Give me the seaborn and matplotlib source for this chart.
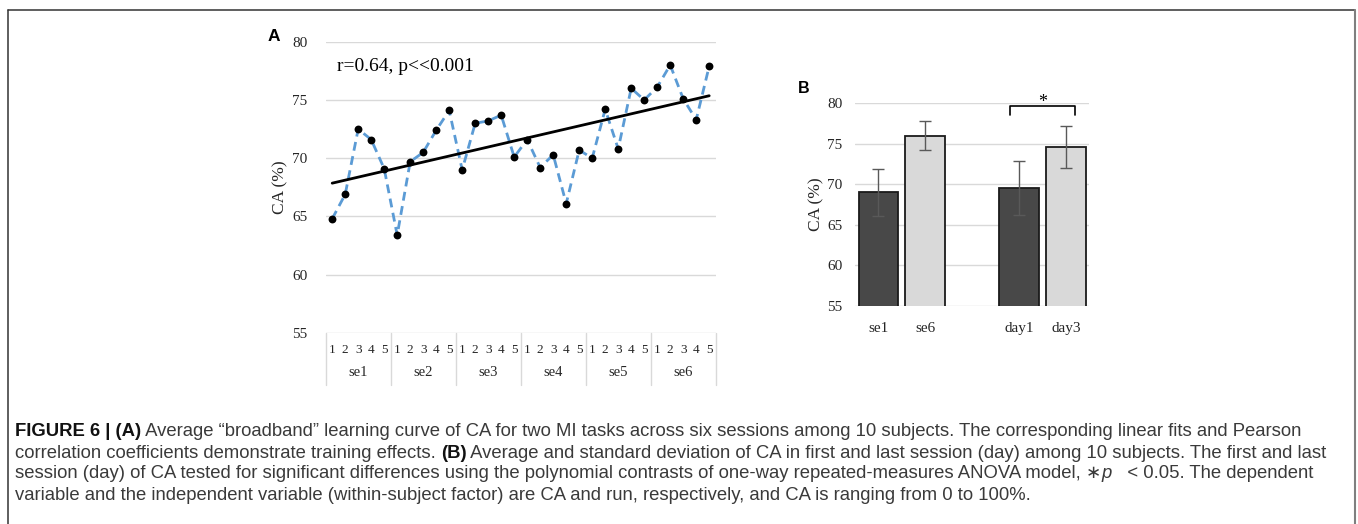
import numpy as np
import pandas as pd
import matplotlib
matplotlib.use("Agg")
import matplotlib.pyplot as plt
import matplotlib.transforms as mtransforms
import seaborn as sns

# ---------------- data ----------------
sessions = ["se1", "se2", "se3", "se4", "se5", "se6"]
runs = ["1", "2", "3", "4", "5"]
ca_curve = [64.8, 66.9, 72.5, 71.6, 69.1,
            63.4, 69.7, 70.5, 72.4, 74.1,
            69.0, 73.0, 73.2, 73.7, 70.1,
            71.6, 69.2, 70.3, 66.1, 70.7,
            70.0, 74.2, 70.8, 76.0, 75.0,
            76.1, 78.0, 75.1, 73.3, 77.9]
annot_text = "r=0.64, p<<0.001"

bar_labels = ["se1", "se6", "day1", "day3"]
bar_order = ["se1", "se6", " ", "day1", "day3"]
bar_means = [69.0, 76.0, 69.5, 74.6]
bar_sds = [2.9, 1.8, 3.35, 2.55]
bar_colors = {"se1": "#484848", "se6": "#d9d9d9", "day1": "#484848", "day3": "#d9d9d9", " ": "#ffffff"}

y_ticks = [55, 60, 65, 70, 75, 80]

caption_lines = [
    [("FIGURE 6 | (A)", "bold", "normal"),
     (" Average \u201cbroadband\u201d learning curve of CA for two MI tasks across six sessions among 10 subjects. The corresponding linear fits and Pearson", "normal", "normal")],
    [("correlation coefficients demonstrate training effects. ", "normal", "normal"),
     ("(B)", "bold", "normal"),
     (" Average and standard deviation of CA in first and last session (day) among 10 subjects. The first and last", "normal", "normal")],
    [("session (day) of CA tested for significant differences using the polynomial contrasts of one-way repeated-measures ANOVA model, \u2217", "normal", "normal"),
     ("p", "normal", "italic"),
     ("   < 0.05. The dependent", "normal", "normal")],
    [("variable and the independent variable (within-subject factor) are CA and run, respectively, and CA is ranging from 0 to 100%.", "normal", "normal")],
]

# ---------------- style ----------------
sns.set_style("white")
plt.rcParams["font.family"] = ["Liberation Serif", "DejaVu Serif"]
plt.rcParams["axes.unicode_minus"] = False

W, H = 1358, 524
fig = plt.figure(figsize=(W / 100, H / 100), dpi=100)

def fx(px):
    return px / W

def fy(py):
    return 1 - py / H

grid_c = "#d9d9d9"
text_c = "#262626"

# background axes for frame + caption
bg = fig.add_axes([0, 0, 1, 1])
bg.set_xlim(0, 1)
bg.set_ylim(0, 1)
bg.axis("off")
bg.plot([fx(8), fx(8)], [fy(10), 0], color="#333333", lw=1.1)
bg.plot([fx(8), fx(1355)], [fy(10), fy(10)], color="#333333", lw=1.1)
bg.plot([fx(1355), fx(1355)], [fy(10), 0], color="#7f7f7f", lw=1.5)

# ---------------- panel A ----------------
axA = fig.add_axes([fx(325.7), fy(333), fx(715.7) - fx(325.7), fy(41.7) - fy(333)])
xs = np.arange(len(ca_curve))
dfA = pd.DataFrame({"x": xs, "ca": ca_curve})
sns.lineplot(data=dfA, x="x", y="ca", ax=axA, color="#5b9bd5", lw=2.0,
             linestyle=(0, (3.2, 2.0)), zorder=2)
sns.regplot(data=dfA, x="x", y="ca", ax=axA, scatter=False, ci=None,
            line_kws=dict(color="black", lw=2.0, zorder=3))
sns.scatterplot(data=dfA, x="x", y="ca", ax=axA, color="black", s=32,
                edgecolor="black", linewidth=0, zorder=4)
axA.set_xlim(-0.5, len(ca_curve) - 0.5)
axA.set_ylim(55, 80)
axA.set_yticks(y_ticks)
axA.set_yticklabels([str(t) for t in y_ticks], fontsize=11, color=text_c)
axA.yaxis.grid(True, color=grid_c, lw=1.0)
axA.set_axisbelow(True)
for s in axA.spines.values():
    s.set_visible(False)
axA.tick_params(axis="y", length=0, pad=13)
axA.set_xticks(xs)
axA.set_xticklabels(runs * len(sessions), fontsize=9.5, color=text_c)
axA.tick_params(axis="x", length=0, pad=8)
axA.set_xlabel("")
axA.set_ylabel("CA (%)", fontsize=12.5, color=text_c, labelpad=3)

trA = mtransforms.blended_transform_factory(axA.transData, axA.transAxes)
axh = 333 - 41.7
for i, se in enumerate(sessions):
    axA.text(i * len(runs) + (len(runs) - 1) / 2, -(373 - 333) / axh, se,
             transform=trA, ha="center", va="center", fontsize=10.5, color=text_c)
for b in range(len(sessions) + 1):
    axA.plot([b * len(runs) - 0.5] * 2, [0, -(385 - 333) / axh], transform=trA,
             color=grid_c, lw=1.0, clip_on=False)
axA.text(fx(336.7 - 325.7) / (fx(715.7) - fx(325.7)), (333 - 66.7) / axh, annot_text,
         transform=axA.transAxes, ha="left", va="center", fontsize=14, color="black")
fig.text(fx(268), fy(36.5), "A", fontsize=12.5, fontweight="bold",
         family="Liberation Sans", ha="left", va="center", color="black")

# ---------------- panel B ----------------
axB = fig.add_axes([fx(855), fy(305.7), fx(1089.3) - fx(855), fy(103.3) - fy(305.7)])
dfB = pd.DataFrame({"cond": bar_labels, "ca": bar_means})
sns.barplot(data=dfB, x="cond", y="ca", order=bar_order, hue="cond",
            palette=bar_colors, hue_order=bar_order, legend=False, ax=axB,
            width=0.85, edgecolor="#1a1a1a", linewidth=1.3, errorbar=None,
            saturation=1.0, zorder=2)
pos = [bar_order.index(c) for c in bar_labels]
axB.errorbar(pos, bar_means, yerr=bar_sds, fmt="none", ecolor="#595959",
             elinewidth=1.0, capsize=4, capthick=1.0, zorder=3)
axB.set_ylim(55, 80)
axB.set_xlim(-0.5, len(bar_order) - 0.5)
axB.set_yticks(y_ticks)
axB.set_yticklabels([str(t) for t in y_ticks], fontsize=11, color=text_c)
axB.yaxis.grid(True, color=grid_c, lw=1.0)
axB.set_axisbelow(True)
for s in axB.spines.values():
    s.set_visible(False)
axB.tick_params(axis="y", length=0, pad=9)
axB.tick_params(axis="x", length=0, pad=12)
axB.set_xticks(range(len(bar_order)))
axB.set_xticklabels(bar_order, fontsize=11, color=text_c)
axB.set_xlabel("")
axB.set_ylabel("CA (%)", fontsize=12.5, color=text_c, labelpad=2)

# significance bracket between day1 and day3
bx0 = pos[2] - 0.2
bx1 = pos[3] + 0.2
axB.plot([bx0, bx0, bx1, bx1], [78.6, 79.7, 79.7, 78.6], color="black", lw=1.2,
         clip_on=False, zorder=4)
axB.text((pos[2] + pos[3]) / 2, 79.1, "*", ha="center", va="bottom",
         fontsize=13, color="black", clip_on=False)
fig.text(fx(798), fy(88.5), "B", fontsize=11.5, fontweight="bold",
         family="Liberation Sans", ha="left", va="center", color="black")

# ---------------- caption ----------------
cap_y = [432, 453, 474, 495]
cap_size = 13.3
for line, yy in zip(caption_lines, cap_y):
    prev = None
    for txt, wt, st in line:
        col = "#111111" if wt == "bold" else "#3a3a3a"
        if prev is None:
            prev = bg.text(fx(15), fy(yy), txt, fontsize=cap_size, fontweight=wt,
                           fontstyle=st, family=["Liberation Sans", "DejaVu Sans"],
                           ha="left", va="center", color=col)
        else:
            prev = bg.annotate(txt, xy=(1, 0), xycoords=prev, ha="left", va="bottom",
                               fontsize=cap_size, fontweight=wt, fontstyle=st,
                               family=["Liberation Sans", "DejaVu Sans"], color=col)

fig.savefig("out.png", dpi=100)
